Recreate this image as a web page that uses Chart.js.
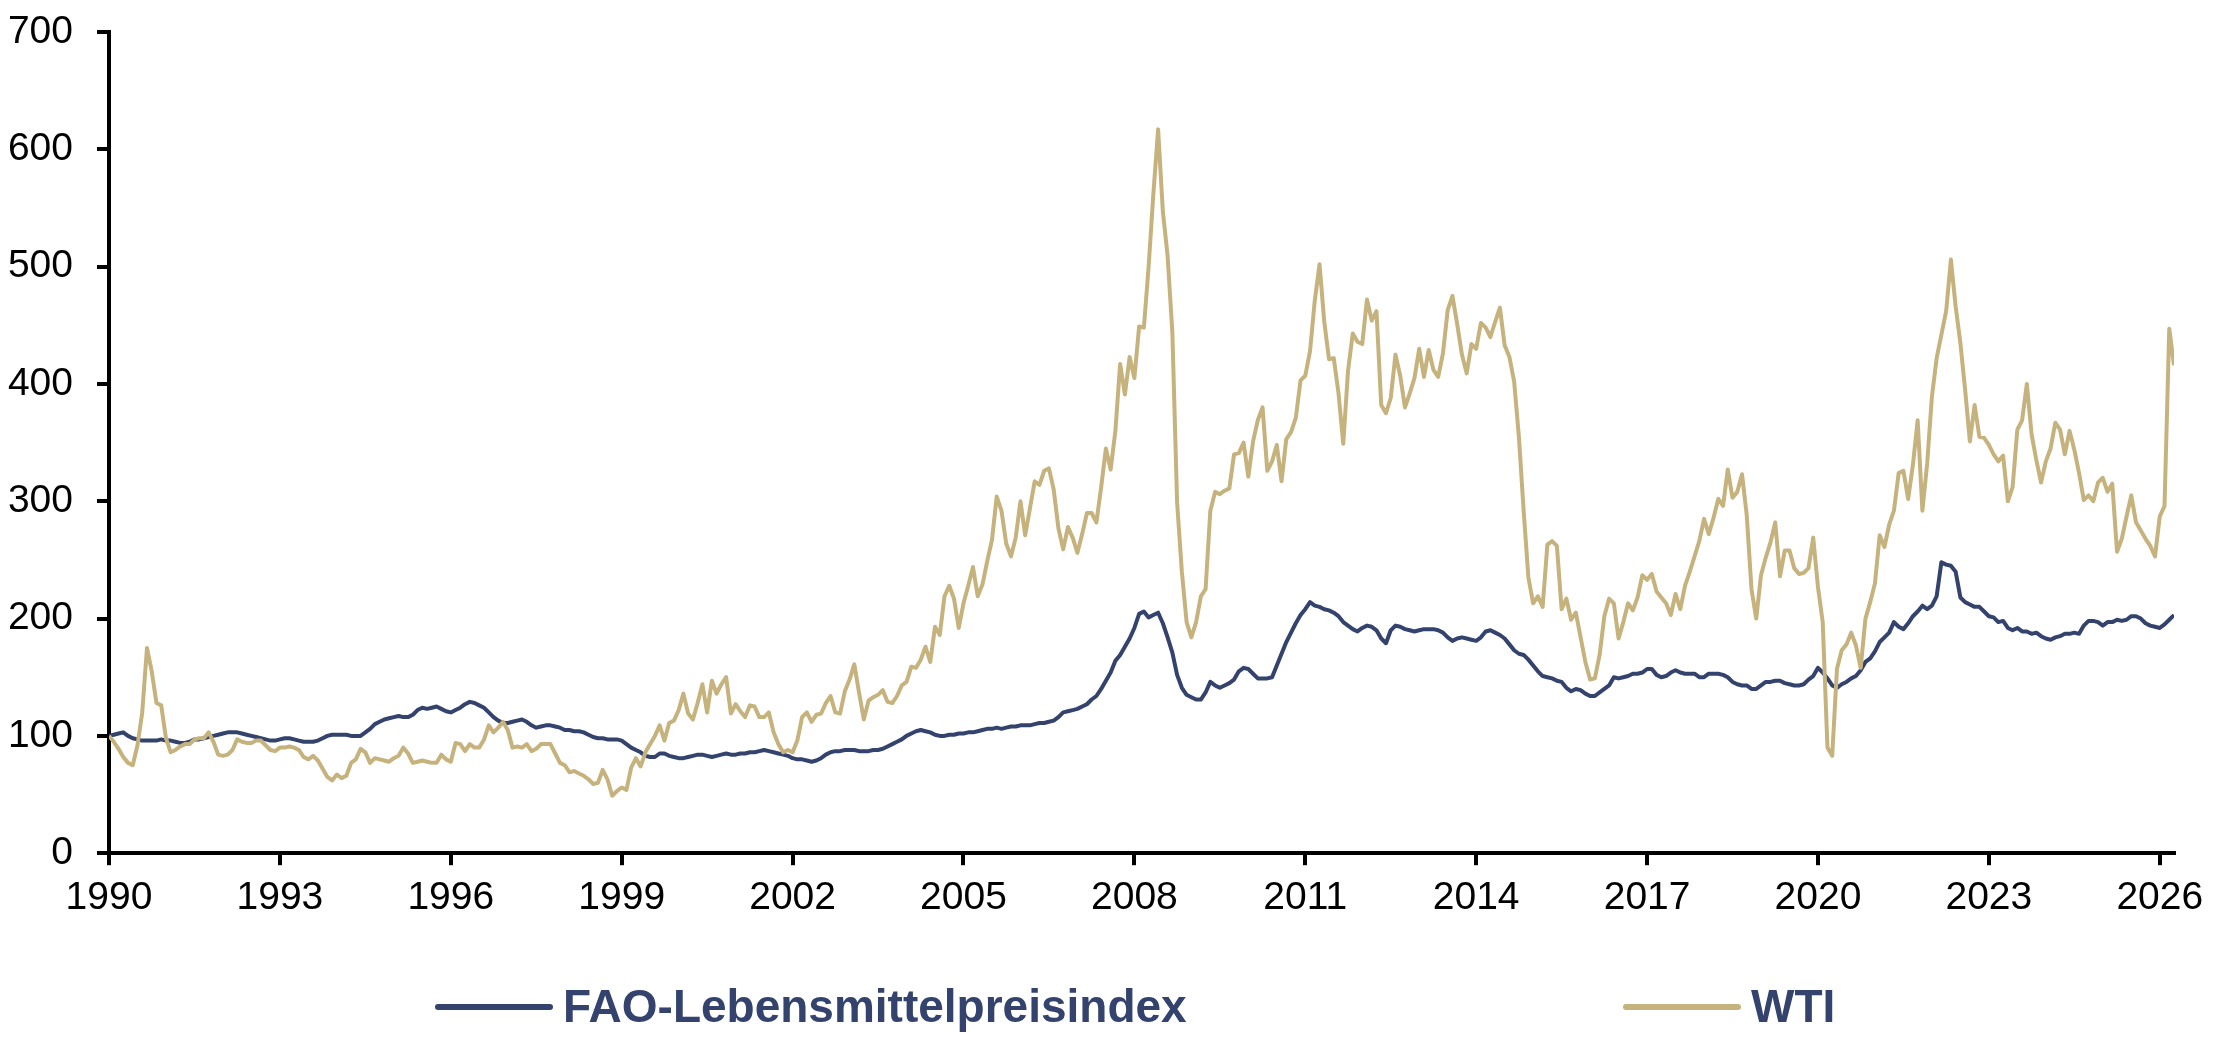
<!DOCTYPE html>
<html>
<head>
<meta charset="utf-8">
<title>FAO-Lebensmittelpreisindex vs. WTI</title>
<script src="https://cdn.jsdelivr.net/npm/chart.js@4.4.1/dist/chart.umd.min.js"></script>
<style>
  html, body { margin: 0; padding: 0; background: #fff; }
  #wrap { width: 2218px; height: 1040px; }
</style>
</head>
<body>
<div id="wrap"><canvas id="myChart" width="2218" height="1040"></canvas></div>
<script>
// Monthly values, index Jan 1990 = 100, first month Jan 1990
const startYear = 1990;
const seriesLabels = ["FAO-Lebensmittelpreisindex", "WTI"];

const faoIndex = [
  100, 101, 102, 103, 100, 98, 97, 96, 96, 96, 96, 97,        // 1990
  96, 96, 95, 94, 94, 95, 97, 97, 98, 99, 100, 101,           // 1991
  102, 103, 103, 103, 102, 101, 100, 99, 98, 97, 96, 96,      // 1992
  97, 98, 98, 97, 96, 95, 95, 95, 96, 98, 100, 101,           // 1993
  101, 101, 101, 100, 100, 100, 103, 106, 110, 112, 114, 115, // 1994
  116, 117, 116, 116, 118, 122, 124, 123, 124, 125, 123, 121, // 1995
  120, 122, 124, 127, 129, 128, 126, 124, 120, 116, 113, 111, // 1996
  111, 112, 113, 114, 112, 109, 107, 108, 109, 109, 108, 107, // 1997
  105, 105, 104, 104, 103, 101, 99, 98, 98, 97, 97, 97,       // 1998
  96, 93, 90, 88, 86, 83, 82, 82, 85, 85, 83, 82,             // 1999
  81, 81, 82, 83, 84, 84, 83, 82, 83, 84, 85, 84,             // 2000
  84, 85, 85, 86, 86, 87, 88, 87, 86, 85, 84, 83,             // 2001
  81, 80, 80, 79, 78, 79, 81, 84, 86, 87, 87, 88,             // 2002
  88, 88, 87, 87, 87, 88, 88, 89, 91, 93, 95, 97,             // 2003
  100, 102, 104, 105, 104, 103, 101, 100, 100, 101, 101, 102, // 2004
  102, 103, 103, 104, 105, 106, 106, 107, 106, 107, 108, 108, // 2005
  109, 109, 109, 110, 111, 111, 112, 113, 116, 120, 121, 122, // 2006
  123, 125, 127, 131, 134, 140, 147, 154, 164, 169, 176, 183, // 2007
  192, 204, 206, 201, 203, 205, 196, 184, 171, 152, 141, 135, // 2008
  133, 131, 131, 137, 146, 143, 141, 143, 145, 148, 155, 158, // 2009
  157, 153, 149, 149, 149, 150, 160, 170, 180, 188, 196, 203, // 2010
  208, 214, 211, 210, 208, 207, 205, 202, 197, 194, 191, 189, // 2011
  192, 194, 193, 190, 183, 179, 190, 194, 193, 191, 190, 189, // 2012
  190, 191, 191, 191, 190, 188, 184, 181, 183, 184, 183, 182, // 2013
  181, 184, 189, 190, 188, 186, 183, 178, 173, 170, 169, 165, // 2014
  160, 155, 151, 150, 149, 147, 146, 141, 138, 140, 139, 136, // 2015
  134, 134, 137, 140, 143, 150, 149, 150, 151, 153, 153, 154, // 2016
  157, 157, 152, 150, 151, 154, 156, 154, 153, 153, 153, 150, // 2017
  150, 153, 153, 153, 152, 150, 146, 144, 143, 143, 140, 140, // 2018
  143, 146, 146, 147, 147, 145, 144, 143, 143, 144, 148, 151, // 2019
  158, 154, 149, 143, 141, 144, 146, 149, 151, 156, 163, 166, // 2020
  172, 180, 184, 188, 197, 193, 191, 196, 202, 206, 211, 208, // 2021
  211, 219, 248, 246, 245, 240, 218, 214, 212, 210, 210, 206, // 2022
  202, 201, 197, 198, 192, 190, 192, 189, 189, 187, 188, 185, // 2023
  183, 182, 184, 185, 187, 187, 188, 187, 194, 198, 198, 197, // 2024
  194, 197, 197, 199, 198, 199, 202, 202, 200, 196, 194, 193, // 2025
  192, 195, 199, 203                                          // 2026
];

const wtiIndex = [
  100, 95, 89, 82, 77, 75, 92, 120, 175, 155, 128, 126,       // 1990
  98, 86, 88, 91, 93, 93, 97, 98, 98, 103, 95, 84,            // 1991
  83, 84, 88, 97, 95, 94, 94, 96, 96, 92, 88, 87,             // 1992
  90, 90, 91, 90, 88, 82, 80, 83, 79, 72, 65, 62,             // 1993
  67, 64, 66, 77, 80, 89, 86, 77, 81, 80, 79, 78,             // 1994
  81, 83, 90, 85, 77, 78, 79, 78, 77, 77, 84, 80,             // 1995
  78, 94, 93, 87, 93, 90, 90, 97, 109, 103, 107, 112,         // 1996
  105, 90, 91, 90, 93, 87, 89, 93, 93, 93, 85, 77,            // 1997
  75, 69, 70, 68, 66, 63, 59, 60, 71, 63, 49, 53,             // 1998
  56, 54, 73, 81, 74, 86, 93, 100, 109, 96, 111, 113,         // 1999
  122, 136, 119, 114, 128, 144, 120, 147, 136, 144, 150, 119, // 2000
  127, 121, 116, 126, 125, 116, 116, 120, 103, 93, 86, 88,    // 2001
  86, 96, 116, 120, 112, 118, 119, 128, 134, 120, 119, 138,   // 2002
  148, 161, 137, 114, 130, 133, 135, 139, 129, 128, 134, 143, // 2003
  146, 159, 158, 165, 176, 163, 193, 186, 219, 228, 217, 192, // 2004
  213, 228, 244, 219, 229, 249, 267, 304, 292, 264, 253, 269, // 2005
  300, 271, 294, 317, 314, 326, 328, 310, 277, 259, 278, 269, // 2006
  256, 272, 290, 290, 282, 312, 345, 327, 360, 417, 391, 423, // 2007
  405, 449, 448, 500, 562, 617, 547, 509, 444, 299, 240, 197, // 2008
  184, 197, 219, 225, 292, 308, 306, 309, 311, 340, 341, 350, // 2009
  321, 351, 369, 380, 326, 334, 348, 317, 353, 359, 371, 403, // 2010
  407, 428, 471, 502, 453, 421, 422, 392, 349, 411, 443, 436, // 2011
  434, 472, 454, 462, 382, 375, 388, 425, 407, 380, 392, 405, // 2012
  430, 406, 429, 412, 406, 426, 463, 475, 451, 425, 409, 434, // 2013
  430, 452, 448, 440, 453, 465, 433, 423, 402, 355, 292, 235, // 2014
  213, 219, 210, 263, 266, 262, 208, 217, 199, 205, 184, 163, // 2015
  148, 149, 169, 202, 217, 213, 183, 197, 213, 207, 218, 237, // 2016
  233, 238, 223, 218, 213, 203, 221, 208, 228, 240, 253, 266, // 2017
  285, 272, 286, 302, 296, 327, 303, 308, 323, 288, 225, 200, // 2018
  237, 252, 265, 282, 236, 258, 258, 243, 238, 239, 243, 269, // 2019
  227, 197, 90, 83, 157, 173, 178, 188, 177, 158, 200, 214,   // 2020
  230, 271, 261, 280, 292, 324, 326, 302, 331, 369, 292, 332, // 2021
  389, 422, 442, 462, 506, 466, 435, 395, 351, 382, 355, 354, // 2022
  348, 340, 334, 339, 300, 312, 361, 369, 400, 357, 335, 316, // 2023
  334, 345, 367, 361, 340, 360, 344, 324, 301, 305, 300, 316, // 2024
  320, 308, 315, 257, 268, 287, 305, 282, 275, 268, 262, 253, // 2025
  287, 296, 447, 416                                          // 2026
];

const xTickYears = [1990, 1993, 1996, 1999, 2002, 2005, 2008, 2011, 2014, 2017, 2020, 2023, 2026];
const yTickValues = [0, 100, 200, 300, 400, 500, 600, 700];

const navy = "#33436d";
const tan = "#c6b27d";
const fontName = '"Liberation Sans", Arial, Helvetica, sans-serif';

//Turns a monthly list into points on a decimal year axis
function toPoints(values) {
  return values.map((v, i) => ({ x: startYear + i / 12, y: v }));
}

//Legend drawn under the axis, two items spread apart like the original
const spreadLegend = {
  id: 'spreadLegend',
  afterDraw(chart, args, opts) {
    let ctx = chart.ctx;
    ctx.save();
    ctx.font = 'bold ' + opts.fontSize + 'px ' + fontName;
    ctx.textBaseline = 'alphabetic';
    chart.data.datasets.forEach((ds, i) => {
      let x = opts.starts[i];
      ctx.strokeStyle = ds.borderColor;
      ctx.lineWidth = 6;
      ctx.lineCap = 'round';
      ctx.beginPath();
      ctx.moveTo(x, opts.lineY);
      ctx.lineTo(x + opts.lineLength, opts.lineY);
      ctx.stroke();
      ctx.fillStyle = opts.color;
      ctx.fillText(ds.label, x + opts.lineLength + opts.gap, opts.baseline);
    });
    ctx.restore();
  }
};

let ctx = document.getElementById('myChart').getContext('2d');
let myChart = new Chart(ctx, {
  type: 'line',
  data: {
    datasets: [
      {
        label: seriesLabels[0],
        data: toPoints(faoIndex),
        borderColor: navy,
        backgroundColor: navy,
        borderWidth: 4,
        pointRadius: 0,
        tension: 0,
        borderJoinStyle: 'round',
        order: 1
      },
      {
        label: seriesLabels[1],
        data: toPoints(wtiIndex),
        borderColor: tan,
        backgroundColor: tan,
        borderWidth: 4,
        pointRadius: 0,
        tension: 0,
        borderJoinStyle: 'round',
        order: 0
      }
    ]
  },
  options: {
    responsive: false,
    animation: false,
    devicePixelRatio: 1,
    layout: { padding: { top: 32, left: 8, right: 44, bottom: 108 } },
    plugins: {
      legend: { display: false },
      tooltip: { enabled: false },
      spreadLegend: {
        starts: [438, 1626],
        lineLength: 112,
        gap: 13,
        lineY: 1007,
        baseline: 1022,
        fontSize: 46,
        color: navy
      }
    },
    scales: {
      x: {
        type: 'linear',
        min: 1990,
        max: 2026.25,
        afterBuildTicks: (scale) => { scale.ticks = xTickYears.map(v => ({ value: v })); },
        ticks: {
          autoSkip: false,
          maxRotation: 0,
          padding: 10,
          color: '#000',
          font: { family: fontName, size: 39 },
          callback: (v) => String(v)
        },
        grid: { drawOnChartArea: false, drawTicks: true, tickLength: 12, color: '#000', lineWidth: 4 },
        border: { display: true, color: '#000', width: 4 }
      },
      y: {
        min: 0,
        max: 700,
        afterBuildTicks: (scale) => { scale.ticks = yTickValues.map(v => ({ value: v })); },
        afterFit: (scale) => { scale.width = 101; scale.paddingTop = 0; },
        ticks: {
          padding: 24,
          color: '#000',
          font: { family: fontName, size: 39 },
          callback: (v) => String(v)
        },
        grid: { drawOnChartArea: false, drawTicks: true, tickLength: 12, color: '#000', lineWidth: 4 },
        border: { display: true, color: '#000', width: 4 }
      }
    }
  },
  plugins: [spreadLegend]
});
</script>
</body>
</html>
